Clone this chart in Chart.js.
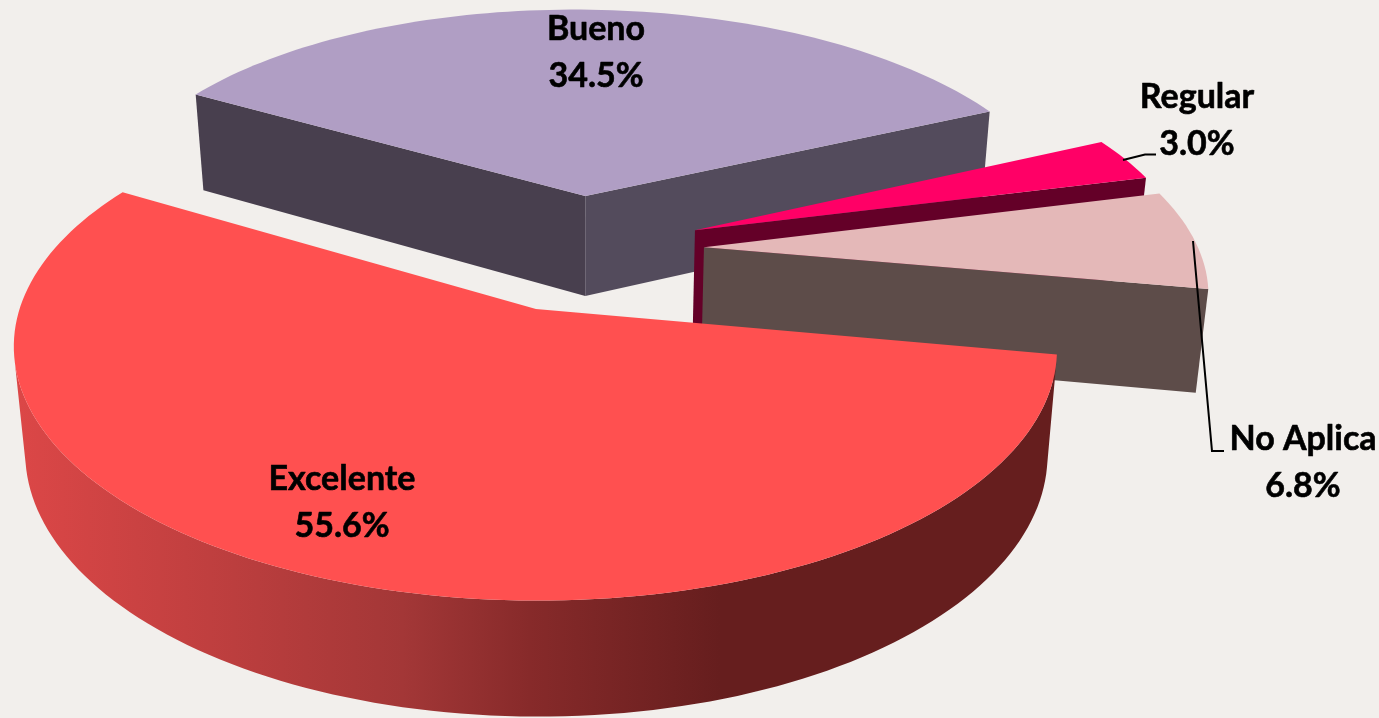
<!DOCTYPE html>
<html>
<head>
<meta charset="utf-8">
<title>Pie</title>
<script src="https://cdn.jsdelivr.net/npm/chart.js@4/dist/chart.umd.min.js"></script>
<style>
  html, body { margin: 0; padding: 0; background: #F2EFEC; overflow: hidden; }
  canvas { display: block; }
</style>
</head>
<body>
<canvas id="myChart" width="1379" height="718"></canvas>
<script>
const categories = ['Excelente', 'Bueno', 'Regular', 'No Aplica'];
const percentages = [55.6, 34.5, 3.0, 6.8];

const topColors = ['#FF5050', '#B09EC4', '#FF0066', '#E4B8B8'];
const wallColors = ['#661E1E', '#534B5C', '#640028', '#5D4C49'];
const explode = [81, 72, 74, 74];

// where the text goes [x, first baseline]
const labelSpots = [[342, 490], [596, 40], [1197, 108], [1303, 450]];
const leaderLines = [
    [[1123, 160], [1145, 154.5], [1156, 154.5]],
    [[1193, 241], [1212, 451], [1224, 451]]
];

// ground plane -> screen, Excel style perspective
const cam = { x0: 582, y0: 249, a: 496, b: 228.5, k: 0.148, shear: 0.006, skew: 4 };

const project = (u, v) =>
{
    const w = 1 - cam.k * v;
    const x = cam.x0 + cam.a * u / w + cam.skew * v;
    return [x, cam.y0 + cam.b * v / w + cam.shear * (x - cam.x0)];
};

// the bottom face of the slab
const drop = (p) => [cam.x0 + 0.98 * (p[0] - cam.x0), 92 + 1.04 * p[1]];

const fillPoly = (ctx, pts, color) =>
{
    ctx.beginPath();
    pts.forEach((p, i) => { i === 0 ? ctx.moveTo(p[0], p[1]) : ctx.lineTo(p[0], p[1]); });
    ctx.closePath();
    ctx.fillStyle = color;
    ctx.fill();
};

const area = (pts) =>
{
    let s = 0;
    for(let i = 0; i < pts.length; i++)
    {
        const q = pts[(i + 1) % pts.length];
        s += pts[i][0] * q[1] - q[0] * pts[i][1];
    }
    return s;
};

const slicePoints = (el) =>
{
    const {startAngle, endAngle, outerRadius} = el.getProps(['startAngle', 'endAngle', 'outerRadius'], true);
    const mid = (startAngle + endAngle) / 2;
    const e = el.options.offset / outerRadius;
    const ou = Math.cos(mid) * e;
    const ov = Math.sin(mid) * e;
    const pts = [project(ou, ov)];
    const steps = Math.max(8, Math.round((endAngle - startAngle) * 40));
    for(let i = 0; i <= steps; i++)
    {
        const t = startAngle + (endAngle - startAngle) * i / steps;
        pts.push(project(ou + Math.cos(t), ov + Math.sin(t)));
    }
    return pts;
};

const drawWalls = (ctx, pts, color, firstWall) =>
{
    const n = pts.length;
    const visible = (a, b) => area([a, b, drop(b), drop(a)]) < 0;

    // the two straight walls
    if(visible(pts[0], pts[1])) fillPoly(ctx, [pts[0], pts[1], drop(pts[1]), drop(pts[0])], firstWall);
    if(visible(pts[n - 1], pts[0])) fillPoly(ctx, [pts[n - 1], pts[0], drop(pts[0]), drop(pts[n - 1])], color);

    // the round wall, one strip per visible run so it has no seams
    let run = [];
    const flush = () =>
    {
        if(run.length > 1) fillPoly(ctx, run.concat(run.map(drop).reverse()), color);
        run = [];
    };
    for(let j = 1; j < n - 1; j++)
    {
        if(visible(pts[j], pts[j + 1]))
        {
            if(run.length === 0) run.push(pts[j]);
            run.push(pts[j + 1]);
        }
        else
        {
            flush();
        }
    }
    flush();
};

const slab3d = {
    id: 'slab3d',
    // this one runs before the datasets and returning false skips the flat pie
    beforeDatasetDraw(chart)
    {
        const ctx = chart.ctx;
        const arcs = chart.getDatasetMeta(0).data;

        const redWall = ctx.createLinearGradient(15, 0, 720, 0);
        redWall.addColorStop(0, '#DC4747');
        redWall.addColorStop(0.55, '#A33737');
        redWall.addColorStop(0.73, '#872A2A');
        redWall.addColorStop(1, '#661E1E');

        // back to front
        [1, 2, 3, 0].forEach((i) =>
        {
            const pts = slicePoints(arcs[i]);
            const color = i === 0 ? redWall : wallColors[i];
            drawWalls(ctx, pts, color, i === 1 ? '#483F4E' : color);
            fillPoly(ctx, pts, arcs[i].options.backgroundColor);
        });
        return false;
    },
    afterDraw(chart)
    {
        const ctx = chart.ctx;
        ctx.strokeStyle = '#000';
        ctx.lineWidth = 2;
        leaderLines.forEach((line) =>
        {
            ctx.beginPath();
            line.forEach((p, i) => { i === 0 ? ctx.moveTo(p[0], p[1]) : ctx.lineTo(p[0], p[1]); });
            ctx.stroke();
        });

        // thin outline because Lato bold is lighter than the original face
        ctx.fillStyle = '#000';
        ctx.lineWidth = 0.6;
        ctx.lineJoin = 'round';
        ctx.textAlign = 'center';
        ctx.font = 'bold 34px Lato';
        categories.forEach((name, i) =>
        {
            const pct = percentages[i].toFixed(1) + '%';
            ctx.fillText(name, labelSpots[i][0], labelSpots[i][1]);
            ctx.strokeText(name, labelSpots[i][0], labelSpots[i][1]);
            ctx.fillText(pct, labelSpots[i][0], labelSpots[i][1] + 47);
            ctx.strokeText(pct, labelSpots[i][0], labelSpots[i][1] + 47);
        });
    }
};

const myChart = new Chart(document.getElementById('myChart').getContext('2d'), {
    type: 'pie',
    data: {
        labels: categories,
        datasets: [{
            data: percentages,
            backgroundColor: topColors,
            borderWidth: 0,
            offset: explode,
            radius: 300
        }]
    },
    options: {
        responsive: false,
        animation: false,
        rotation: 99.6,
        plugins: {
            legend: { display: false },
            tooltip: { enabled: false }
        }
    },
    plugins: [slab3d]
});
</script>
</body>
</html>
